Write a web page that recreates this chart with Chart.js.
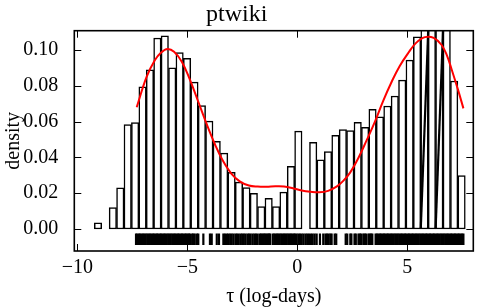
<!DOCTYPE html>
<html>
<head>
<meta charset="utf-8">
<script src="https://cdn.jsdelivr.net/npm/chart.js@4"></script>
<style>
  html, body { margin: 0; padding: 0; background: #fff; }
  #wrap { width: 498px; height: 308px; }
</style>
</head>
<body>
<div id="wrap"><canvas id="myChart" width="498" height="308"></canvas></div>
<script>
// histogram: 50 bins between binLo and binHi
const binLo = -9.227;
const binHi = 7.636;
const density = [
  0.0035, 0, 0.012, 0.023, 0.0584, 0.0594, 0.0795, 0.089, 0.1067, 0.1079,
  0.090, 0.0986, 0.0953, 0.0821, 0.069, 0.0603, 0.049, 0.0424, 0.0317, 0.0262,
  0.0231, 0.0199, 0.0125, 0.0171, 0.0125, 0.0206, 0.035, 0.0547, 0, 0.0484,
  0.0387, 0.0432, 0.0523, 0.0555, 0.055, 0.0596, 0.0568, 0.0669, 0.0627, 0.0687,
  0.0743, 0.0832, 0.0944, 0.1074, 0.12, 0.12, 0.12, 0.12, 0.0827, 0.0298,
];
// bins whose outline is drawn as a slanted stroke in the original
const slantBins = [44, 46];

// smoothed density (red)
const kdeX = [
  -7.3, -6.85, -6.47, -6.2, -5.9, -5.6, -5.25, -4.9, -4.5, -4.1, -3.75, -3.4,
  -3.0, -2.6, -2.2, -1.8, -1.4, -1.0, -0.6, -0.2, 0.2, 0.6, 1.0, 1.4, 1.8, 2.1,
  2.4, 2.77, 3.15, 3.53, 3.9, 4.29, 4.65, 5.05, 5.4, 5.8, 6.2, 6.56, 6.8, 7.02,
  7.3, 7.55,
];
const kdeY = [
  0.068, 0.085, 0.0944, 0.0985, 0.1006, 0.099, 0.0935, 0.084, 0.0711, 0.058,
  0.0475, 0.0385, 0.031, 0.0265, 0.0243, 0.0237, 0.0236, 0.0239, 0.0238, 0.0228,
  0.0215, 0.0208, 0.0205, 0.0213, 0.0238, 0.027, 0.0315, 0.0395, 0.0495, 0.060,
  0.0715, 0.0823, 0.091, 0.0985, 0.1040, 0.1072, 0.1068, 0.1028, 0.097, 0.089,
  0.078, 0.0674,
];

// rug of observations
const rugX = [
  -7.33, -7.27, -7.2, -7.14, -7.08, -7.01, -6.95, -6.89, -6.82, -6.76, -6.7,
  -6.63, -6.57, -6.51, -6.44, -6.38, -6.32, -6.25, -6.19, -6.13, -6.06, -6.0,
  -5.94, -5.87, -5.81, -5.75, -5.68, -5.62, -5.56, -5.49, -5.43, -5.37, -5.3,
  -5.24, -5.18, -5.11, -5.05, -4.99, -4.93, -4.88,
  -4.78, -4.73, -4.66, -4.56, -4.5, -4.27, -3.97, -3.89, -3.66, -3.56,
  -3.36, -3.29, -3.2, -3.13, -3.05, -2.98, -2.9, -2.81, -2.74, -2.66, -2.57,
  -2.5, -2.43, -2.35, -2.26, -2.19, -2.12, -2.03, -1.95, -1.88, -1.8,
  -1.7, -1.64, -1.58, -1.52, -1.46, -1.4, -1.34, -1.28, -1.24,
  -1.12, -1.05, -0.99, -0.92, -0.86, -0.8, -0.73, -0.67, -0.6, -0.54, -0.48,
  -0.41, -0.35, -0.29, -0.22, -0.16, -0.1, -0.03,
  0.05, 0.12, 0.2, 0.28, 0.37, 0.45, 0.53, 0.62, 0.7, 0.79, 0.88,
  1.03, 1.18, 1.28, 1.35, 1.42, 1.5, 1.56, 1.7, 1.77,
  2.2, 2.27, 2.41, 2.46, 2.6, 2.66, 2.78, 2.84, 2.9, 3.0, 3.06, 3.12, 3.23,
  3.29, 3.35, 3.41,
  3.56, 3.62, 3.69, 3.75, 3.81, 3.88, 3.94, 4.0, 4.07, 4.13, 4.19, 4.26, 4.32,
  4.38, 4.45, 4.51, 4.57, 4.64, 4.7, 4.76, 4.83, 4.89, 4.95, 5.02, 5.08, 5.14,
  5.21, 5.27, 5.33, 5.4, 5.46, 5.52, 5.59, 5.65, 5.71, 5.78, 5.84, 5.9, 5.97,
  6.03, 6.09, 6.16, 6.22, 6.28, 6.35, 6.41, 6.47, 6.54, 6.6, 6.66, 6.73, 6.79,
  6.85, 6.92, 6.98, 7.04, 7.11, 7.17, 7.23, 7.3, 7.36, 7.42, 7.49, 7.55,
];
const rugLevel = -0.0057;

const xTicks = [-10, -5, 0, 5];
const yTicks = [0, 0.02, 0.04, 0.06, 0.08, 0.1];
const xMin = -10.136, xMax = 8.0;
const yMin = -0.0123, yMax = 0.1108;

const binWidth = (binHi - binLo) / density.length;
const histData = density.map((v, i) => ({ x: binLo + (i + 0.5) * binWidth, y: v }));
const slantSets = slantBins.map((i) => ({
  type: "line",
  data: [
    { x: binLo + i * binWidth, y: 0 },
    { x: binLo + (i + 1) * binWidth, y: yMax },
  ],
  borderColor: "#000",
  borderWidth: 2.2,
  pointRadius: 0,
  clip: 0,
  order: 2,
}));

Chart.defaults.font.family = "'Liberation Serif', 'DejaVu Serif', serif";
Chart.defaults.color = "#000";

const frameAndTicks = {
  id: "frameAndTicks",
  afterDatasetsDraw(chart) {
    const {
      ctx,
      chartArea: { left, right, top, bottom },
      scales: { x, y },
    } = chart;
    ctx.save();
    ctx.strokeStyle = "#000";
    ctx.lineWidth = 1;
    ctx.beginPath();
    xTicks.forEach((v) => {
      const px = Math.round(x.getPixelForValue(v)) + 0.5;
      ctx.moveTo(px, bottom);
      ctx.lineTo(px, bottom - 7);
      ctx.moveTo(px, top);
      ctx.lineTo(px, top + 7);
    });
    yTicks.forEach((v) => {
      const py = Math.round(y.getPixelForValue(v)) + 0.5;
      ctx.moveTo(left, py);
      ctx.lineTo(left + 7, py);
      ctx.moveTo(right, py);
      ctx.lineTo(right - 7, py);
    });
    ctx.stroke();
    ctx.lineWidth = 1.6;
    ctx.strokeRect(left, top, right - left, bottom - top);
    ctx.restore();
  },
};

const ctx = document.getElementById("myChart");
new Chart(ctx, {
  type: "bar",
  data: {
    datasets: [
      {
        type: "line",
        data: kdeX.map((v, i) => ({ x: v, y: kdeY[i] })),
        borderColor: "#ff0000",
        borderWidth: 2,
        pointRadius: 0,
        tension: 0.4,
        clip: 0,
        order: 0,
      },
      {
        type: "scatter",
        data: rugX.map((v) => ({ x: v, y: rugLevel })),
        pointStyle: "line",
        rotation: 90,
        pointRadius: 5.8,
        borderColor: "#000",
        borderWidth: 2.2,
        order: 1,
      },
      ...slantSets,
      {
        type: "bar",
        data: histData,
        backgroundColor: "#fff",
        borderColor: "#000",
        borderWidth: 1.5,
        borderSkipped: false,
        barPercentage: 1,
        categoryPercentage: 1,
        clip: 0,
        order: 3,
      },
    ],
  },
  options: {
    responsive: false,
    animation: false,
    events: [],
    layout: { padding: { left: 0, right: 24.7, top: 0, bottom: 0 } },
    scales: {
      x: {
        type: "linear",
        min: xMin,
        max: xMax,
        offset: false,
        grid: { display: false },
        border: { display: false },
        afterBuildTicks: (scale) => {
          scale.ticks = xTicks.map((v) => ({ value: v }));
        },
        afterFit: (scale) => {
          scale.height = 57;
        },
        ticks: {
          font: { size: 20 },
          padding: -3,
          maxRotation: 0,
          callback: (v) => (v < 0 ? "\u2212" + Math.abs(v) : String(v)),
        },
        title: {
          display: true,
          text: "\u03c4 (log-days)",
          font: { size: 20, lineHeight: 1 },
          padding: { top: 0, bottom: 1 },
        },
      },
      y: {
        min: yMin,
        max: yMax,
        grid: { display: false },
        border: { display: false },
        afterBuildTicks: (scale) => {
          scale.ticks = yTicks.map((v) => ({ value: v }));
        },
        afterFit: (scale) => {
          scale.width = 74.3;
        },
        ticks: {
          font: { size: 20 },
          padding: 8,
          callback: (v) => v.toFixed(2),
        },
        title: {
          display: true,
          text: "density",
          font: { size: 20 },
          padding: { top: 2, bottom: 0 },
        },
      },
    },
    plugins: {
      legend: { display: false },
      tooltip: { enabled: false },
      title: {
        display: true,
        text: "ptwiki",
        font: { size: 24, weight: "normal", lineHeight: 1 },
        padding: { top: 3, bottom: 3.7 },
      },
    },
  },
  plugins: [frameAndTicks],
});
</script>
</body>
</html>
